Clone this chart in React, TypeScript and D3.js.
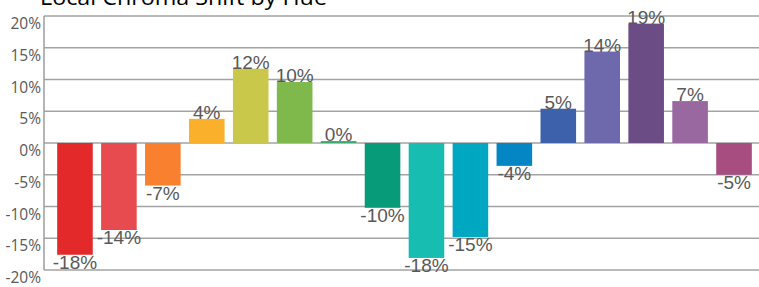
import React, { useEffect, useRef } from 'react';
import * as d3 from 'd3';

// hue buckets, left to right
const hues = [
  'Red', 'Red 2', 'Orange', 'Amber', 'Yellow', 'Yellow-Green', 'Green', 'Sea Green',
  'Teal', 'Cyan', 'Azure', 'Blue', 'Indigo', 'Violet', 'Purple', 'Magenta',
];
// chroma shift in %
const shifts = [-17.6, -13.7, -6.7, 3.8, 11.7, 9.6, 0.3, -10.2, -18.1, -14.8, -3.6, 5.4, 14.4, 18.8, 6.6, -5.0];
const barColors = [
  '#e4292b', '#e84b4f', '#f8802f', '#fbb02b', '#c9c84a', '#7fb84b', '#3ba86e', '#079b7a',
  '#17bdb0', '#00a7c1', '#0586c4', '#3d62ab', '#6e68ad', '#6b4c85', '#9968a0', '#a74d80',
];
const yTicks = [-20, -15, -10, -5, 0, 5, 10, 15, 20];

const W = 759;
const H = 287;

const App = () => {
  const svgRef = useRef<SVGSVGElement>(null);

  useEffect(() => {
    const svg = d3.select(svgRef.current);
    svg.selectAll('*').remove();

    const x = d3.scaleBand<string>()
      .domain(hues)
      .range([53, 756])
      .paddingInner(0.19)
      .paddingOuter(0.095);

    const y = d3.scaleLinear().domain([-20, 20]).range([270, 16]);

    // title, cut off at the top like the original
    svg.append('text')
      .attr('x', 40)
      .attr('y', 5)
      .attr('font-family', 'Open Sans, sans-serif')
      .attr('font-size', 21)
      .attr('fill', '#000')
      .attr('textLength', 287)
      .attr('lengthAdjust', 'spacingAndGlyphs')
      .text('Local Chroma Shift by Hue');

    // gridlines
    svg.append('g')
      .selectAll('line')
      .data(yTicks)
      .enter()
      .append('line')
      .attr('x1', 44)
      .attr('x2', W)
      .attr('y1', d => y(d))
      .attr('y2', d => y(d))
      .attr('stroke', '#a3a3a3')
      .attr('stroke-width', 1.5);

    // left axis line
    svg.append('line')
      .attr('x1', 44).attr('x2', 44)
      .attr('y1', y(20)).attr('y2', y(-20))
      .attr('stroke', '#9c9c9c')
      .attr('stroke-width', 1.5);

    // tick labels (sit just below their gridline)
    svg.append('g')
      .selectAll('text')
      .data(yTicks)
      .enter()
      .append('text')
      .attr('x', 41)
      .attr('y', d => y(d) + 13)
      .attr('text-anchor', 'end')
      .attr('font-family', 'Open Sans, sans-serif')
      .attr('font-size', 15.5)
      .attr('fill', '#595959')
      .text(d => `${d}%`);

    // bars
    svg.append('g')
      .selectAll('rect')
      .data(shifts)
      .enter()
      .append('rect')
      .attr('x', (d, i) => x(hues[i]) as number)
      .attr('y', d => y(Math.max(d, 0)))
      .attr('width', x.bandwidth())
      .attr('height', d => Math.abs(y(d) - y(0)))
      .attr('fill', (d, i) => barColors[i]);

    // value labels
    svg.append('g')
      .selectAll('text')
      .data(shifts)
      .enter()
      .append('text')
      .attr('x', (d, i) => (x(hues[i]) as number) + x.bandwidth() / 2)
      .attr('y', d => (d >= 0 ? y(d) : y(d) + 14))
      .attr('text-anchor', 'middle')
      .attr('font-family', 'Liberation Sans, Arial, sans-serif')
      .attr('font-size', 19)
      .attr('fill', '#595959')
      .text(d => `${Math.round(d)}%`);
  }, []);

  return (
    <div style={{ position: 'absolute', left: 0, top: 0 }}>
      <svg ref={svgRef} width={W} height={H} style={{ display: 'block' }}></svg>
    </div>
  );
};

export default App;
